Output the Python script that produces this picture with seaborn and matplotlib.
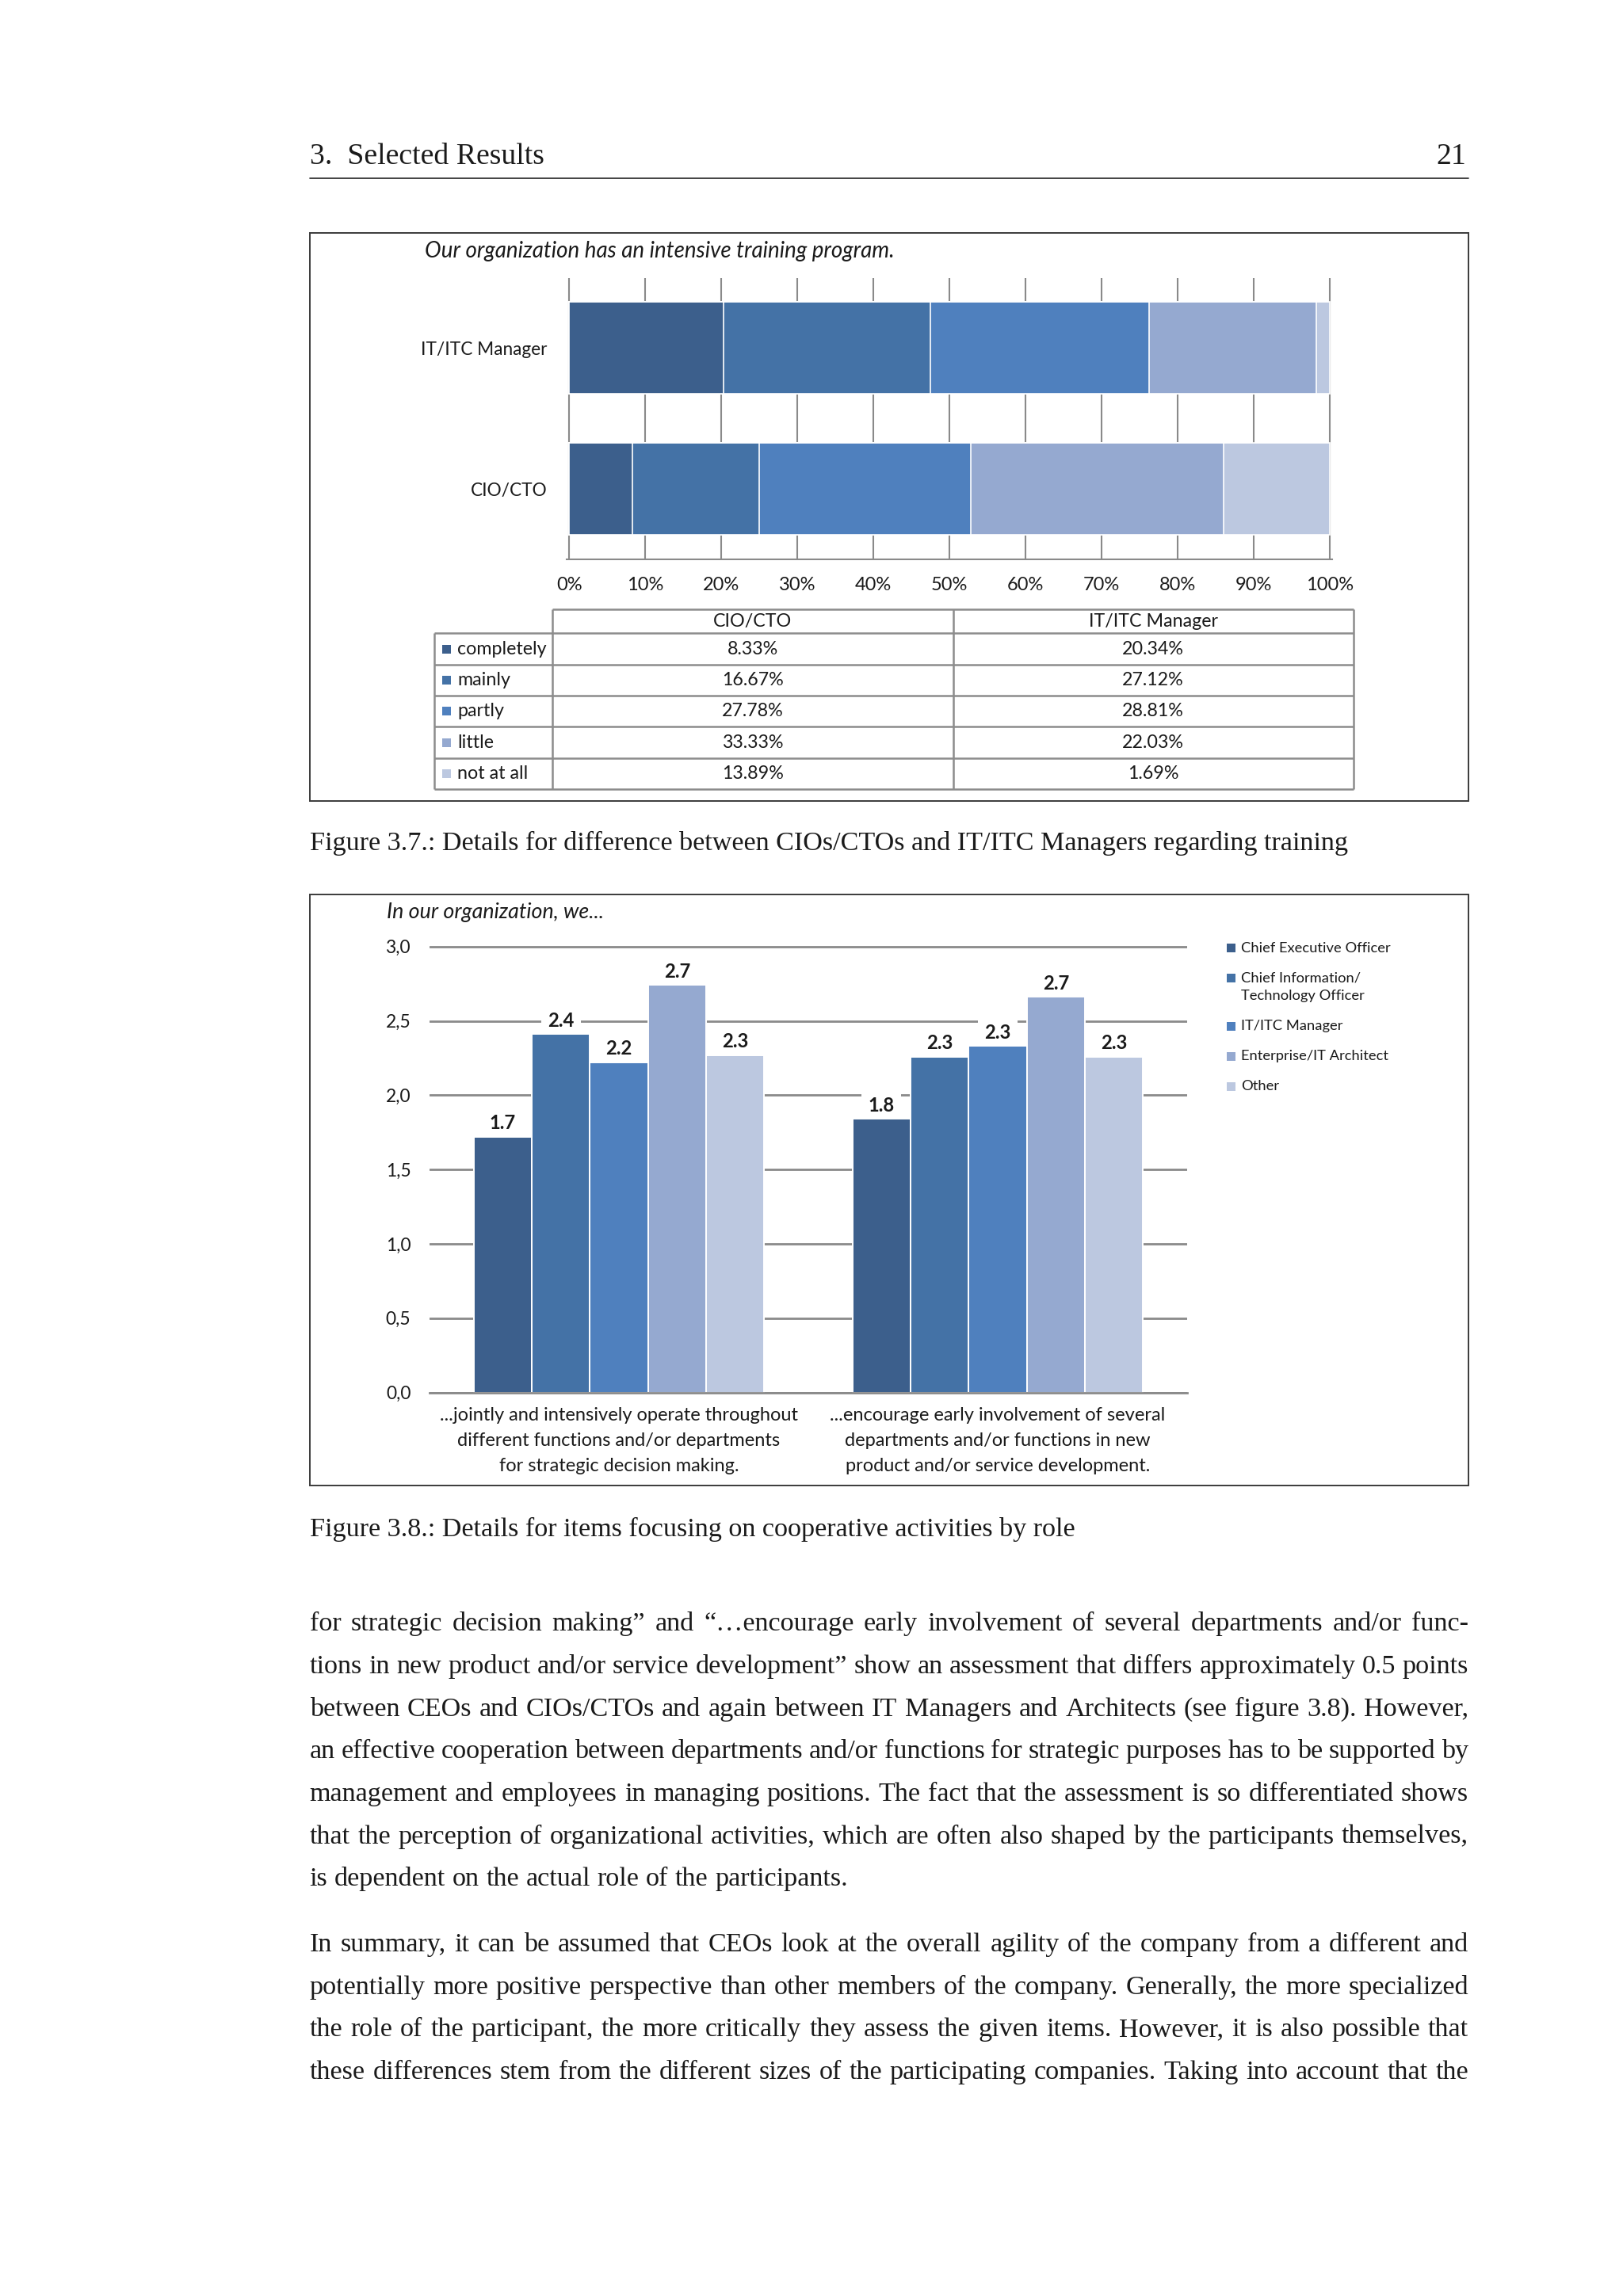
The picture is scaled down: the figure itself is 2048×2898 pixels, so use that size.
import matplotlib

matplotlib.use("Agg")
import matplotlib.pyplot as plt
import numpy as np
import pandas as pd
import seaborn as sns
from matplotlib.patches import Rectangle
from matplotlib.ticker import FuncFormatter

# ---- data -------------------------------------------------------------
TRAIN_TITLE = "Our organization has an intensive training program."
TRAIN_ROLES = ["IT/ITC Manager", "CIO/CTO"]
TRAIN_LEVELS = ["completely", "mainly", "partly", "little", "not at all"]
CIO_CTO_PCT = [8.33, 16.67, 27.78, 33.33, 13.89]
IT_MANAGER_PCT = [20.34, 27.12, 28.81, 22.03, 1.69]
PCT_TICKS = list(range(0, 101, 10))

COOP_TITLE = "In our organization, we..."
COOP_ITEMS = [
    "...jointly and intensively operate throughout\ndifferent functions and/or departments\nfor strategic decision making.",
    "...encourage early involvement of several\ndepartments and/or functions in new\nproduct and/or service development.",
]
COOP_ROLES = [
    "Chief Executive Officer",
    "Chief Information/\nTechnology Officer",
    "IT/ITC Manager",
    "Enterprise/IT Architect",
    "Other",
]
ITEM1_SCORES = [1.72, 2.41, 2.22, 2.74, 2.27]
ITEM2_SCORES = [1.84, 2.26, 2.33, 2.66, 2.26]
SCORE_TICKS = [0.0, 0.5, 1.0, 1.5, 2.0, 2.5, 3.0]

SHADES = ["#3C5F8C", "#4472A6", "#4F80BE", "#95A9D0", "#BCC8E0"]

HEADER_LEFT = "3.  Selected Results"
HEADER_RIGHT = "21"
CAPTION_1 = "Figure 3.7.: Details for difference between CIOs/CTOs and IT/ITC Managers regarding training"
CAPTION_2 = "Figure 3.8.: Details for items focusing on cooperative activities by role"
PARAGRAPH_1 = [
    "for strategic decision making” and “…encourage early involvement of several departments and/or func-",
    "tions in new product and/or service development” show an assessment that differs approximately 0.5 points",
    "between CEOs and CIOs/CTOs and again between IT Managers and Architects (see figure 3.8). However,",
    "an effective cooperation between departments and/or functions for strategic purposes has to be supported by",
    "management and employees in managing positions. The fact that the assessment is so differentiated shows",
    "that the perception of organizational activities, which are often also shaped by the participants themselves,",
    "is dependent on the actual role of the participants.",
]
PARAGRAPH_2 = [
    "In summary, it can be assumed that CEOs look at the overall agility of the company from a different and",
    "potentially more positive perspective than other members of the company. Generally, the more specialized",
    "the role of the participant, the more critically they assess the given items. However, it is also possible that",
    "these differences stem from the different sizes of the participating companies. Taking into account that the",
]

# ---- page setup ---------------------------------------------------------
W, H = 2048, 2898
DPI = 200
SANS = ["Lato", "DejaVu Sans"]
SERIF = ["Liberation Serif", "DejaVu Serif"]
BODY_SIZE = 12.3
GRID = "#8a8a8a"
TEXT_L, TEXT_R = 390.7, 1853.0

sns.set_theme(style="white")
plt.rcParams["font.family"] = SANS
plt.rcParams["text.color"] = "#1a1a1a"

fig = plt.figure(figsize=(W / DPI, H / DPI), dpi=DPI, facecolor="white")
page = fig.add_axes([0, 0, 1, 1])
page.set_xlim(0, W)
page.set_ylim(H, 0)
page.axis("off")


def px_axes(x0, y0, x1, y1):
    """Axes placed with page pixel coordinates (top-left origin)."""
    return fig.add_axes([x0 / W, 1 - y1 / H, (x1 - x0) / W, (y1 - y0) / H])


# header
page.text(TEXT_L, 206.7, HEADER_LEFT, family=SERIF, fontsize=13.6, va="baseline", ha="left")
page.text(1850, 206.7, HEADER_RIGHT, family=SERIF, fontsize=13.6, va="baseline", ha="right")
page.plot([TEXT_L, TEXT_R], [225.3, 225.3], color="#222222", lw=0.6)

# frames around both figures
for top, bottom in [(293.7, 1010.7), (1128.7, 1875.0)]:
    page.add_patch(Rectangle((TEXT_L, top), TEXT_R - TEXT_L, bottom - top, fill=False,
                             edgecolor="#3a3a3a", lw=0.7))

# ---- figure 3.7: stacked horizontal bars --------------------------------
train = pd.DataFrame({"level": TRAIN_LEVELS, "CIO/CTO": CIO_CTO_PCT, "IT/ITC Manager": IT_MANAGER_PCT})
long_train = train.melt(id_vars="level", var_name="role", value_name="pct")
long_train["level"] = pd.Categorical(long_train["level"], TRAIN_LEVELS, ordered=True)
long_train = long_train.sort_values(["role", "level"])
long_train["cum"] = long_train.groupby("role")["pct"].cumsum()

unit = (1677.7 - 718.3) / 100
ax1 = px_axes(718.3 - 0.3 * unit, 350.7, 1677.7 + 0.3 * unit, 705.7)
for level, color in reversed(list(zip(TRAIN_LEVELS, SHADES))):
    sub = long_train[long_train["level"] == level]
    sns.barplot(data=sub, x="cum", y="role", order=TRAIN_ROLES, orient="h", color=color,
                width=0.655, edgecolor="white", linewidth=0.6, saturation=1, ax=ax1)
ax1.set_xlim(-0.3, 100.3)
ax1.set_ylim(1.498, -0.496)
ax1.set_xticks(PCT_TICKS)
ax1.set_xticklabels([f"{t}%" for t in PCT_TICKS])
ax1.set_axisbelow(True)
ax1.grid(axis="x", color=GRID, lw=0.75)
ax1.grid(axis="y", visible=False)
for side in ["top", "right", "left"]:
    ax1.spines[side].set_visible(False)
ax1.spines["bottom"].set_color(GRID)
ax1.spines["bottom"].set_linewidth(0.75)
ax1.tick_params(axis="x", length=0, pad=8, labelsize=8.5, colors="#1a1a1a")
ax1.tick_params(axis="y", length=0, pad=9, labelsize=8.15, colors="#1a1a1a")
ax1.set_xlabel("")
ax1.set_ylabel("")
page.text(535.7, 325, TRAIN_TITLE, style="italic", fontsize=10.0, va="baseline", ha="left")

# data table under the bars
row_lines = [769.3, 799.3, 839.0, 878.3, 917.3, 956.7, 995.7]
col_lines = [548.3, 696.7, 1202.5, 1707.5]
tl = dict(color="#8c8c8c", lw=0.9, solid_capstyle="butt")
page.plot([col_lines[1], col_lines[3]], [row_lines[0]] * 2, **tl)
for y in row_lines[1:]:
    page.plot([col_lines[0], col_lines[3]], [y, y], **tl)
page.plot([col_lines[0]] * 2, [row_lines[1], row_lines[-1]], **tl)
for x in col_lines[1:]:
    page.plot([x, x], [row_lines[0], row_lines[-1]], **tl)

col_centres = [(col_lines[1] + col_lines[2]) / 2, (col_lines[2] + col_lines[3]) / 2]
for cx, name in zip(col_centres, ["CIO/CTO", "IT/ITC Manager"]):
    page.text(cx, (row_lines[0] + row_lines[1]) / 2, name, fontsize=8.4, ha="center", va="center")
for i, (level, color) in enumerate(zip(TRAIN_LEVELS, SHADES)):
    cy = (row_lines[i + 1] + row_lines[i + 2]) / 2
    page.add_patch(Rectangle((558.3, cy - 5.5), 11, 11, color=color, lw=0))
    page.text(577.3, cy, level, fontsize=8.4, ha="left", va="center")
    page.text(col_centres[0], cy, f"{CIO_CTO_PCT[i]:.2f}%", fontsize=8.4, ha="center", va="center")
    page.text(col_centres[1], cy, f"{IT_MANAGER_PCT[i]:.2f}%", fontsize=8.4, ha="center", va="center")

page.text(TEXT_L, 1073.3, CAPTION_1, family=SERIF, fontsize=BODY_SIZE, va="baseline", ha="left")

# ---- figure 3.8: grouped bars ------------------------------------------
coop = pd.DataFrame({
    "item": np.repeat(COOP_ITEMS, len(COOP_ROLES)),
    "role": COOP_ROLES * len(COOP_ITEMS),
    "score": ITEM1_SCORES + ITEM2_SCORES,
})
score_px = (1757.5 - 1194.7) / 3.0
ax2 = px_axes(542, 1194.7 - 0.02 * score_px, 1498, 1757.5)
sns.barplot(data=coop, x="item", y="score", hue="role", hue_order=COOP_ROLES, order=COOP_ITEMS,
            palette=SHADES, width=0.767, gap=0, edgecolor="white", linewidth=0.7,
            saturation=1, legend=False, ax=ax2)
ax2.set_ylim(0, 3.02)
ax2.set_xlim(-0.5, 1.5)
ax2.set_yticks(SCORE_TICKS)
ax2.yaxis.set_major_formatter(FuncFormatter(lambda v, _: f"{v:.1f}".replace(".", ",")))
ax2.set_axisbelow(True)
ax2.grid(axis="y", color=GRID, lw=1.0)
ax2.grid(axis="x", visible=False)
for side in ["top", "right", "left"]:
    ax2.spines[side].set_visible(False)
ax2.spines["bottom"].set_color(GRID)
ax2.spines["bottom"].set_linewidth(1.0)
ax2.tick_params(axis="y", length=0, pad=8.5, labelsize=8.2, colors="#1a1a1a")
ax2.tick_params(axis="x", length=0, pad=6.5, labelsize=8.5, colors="#1a1a1a")
for lab in ax2.get_xticklabels():
    lab.set_linespacing(1.66)
ax2.set_xlabel("")
ax2.set_ylabel("")
for container in ax2.containers:
    ax2.bar_label(container, fmt="%.1f", padding=2, fontsize=8.6, fontweight="bold",
                  zorder=0.9, bbox=dict(facecolor="white", edgecolor="none", pad=3))
page.text(488.3, 1159.3, COOP_TITLE, style="italic", fontsize=9.7, va="baseline", ha="left")

# legend on the right
ly = 1196.7
for role, color in zip(COOP_ROLES, SHADES):
    page.add_patch(Rectangle((1548, ly - 5.7), 11.4, 11.4, color=color, lw=0))
    for k, part in enumerate(role.split("\n")):
        page.text(1565.7, ly + 22.6 * k, part, fontsize=6.6, ha="left", va="center")
    ly += 38.0 + 22.6 * (role.count("\n"))

page.text(TEXT_L, 1939.3, CAPTION_2, family=SERIF, fontsize=BODY_SIZE, va="baseline", ha="left")

# ---- justified body text ------------------------------------------------
renderer = fig.canvas.get_renderer()


def set_line(line, y, justify):
    words = line.split(" ")
    texts = [page.text(0, y, w, family=SERIF, fontsize=BODY_SIZE, va="baseline", ha="left") for w in words]
    widths = [t.get_window_extent(renderer).width for t in texts]
    space = 0.25 * BODY_SIZE * DPI / 72
    gap = (TEXT_R - TEXT_L - sum(widths)) / (len(words) - 1) if justify else space
    x = TEXT_L
    for t, w in zip(texts, widths):
        t.set_x(x)
        x += w + gap


for i, line in enumerate(PARAGRAPH_1):
    set_line(line, 2058.3 + 53.65 * i, justify=i < len(PARAGRAPH_1) - 1)
for i, line in enumerate(PARAGRAPH_2):
    set_line(line, 2463.0 + 53.65 * i, justify=True)

fig.savefig("out.png", dpi=DPI, facecolor="white")
